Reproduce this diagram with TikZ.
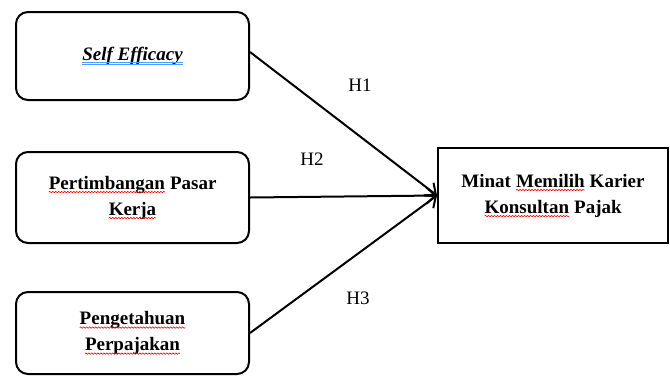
\documentclass[tikz,border=0pt]{standalone}
\usepackage{fontspec}
\setmainfont{Liberation Serif}
\usetikzlibrary{arrows.meta,decorations.pathmorphing}
\tikzset{inner/.style={inner sep=0pt,outer sep=0pt,draw=none,fill=none,rounded corners=0pt,minimum width=0pt,minimum height=0pt,anchor=base}}
\newcommand{\wv}[1]{\tikz[baseline=(w.base)]{\node[inner](w) at (0pt,0pt){#1};\draw[red,line width=0.6pt,rounded corners=0pt,decorate,decoration={snake,amplitude=0.7pt,segment length=3pt}]([yshift=-3pt]w.base west)--([yshift=-3pt]w.base east);}}
\newcommand{\bluul}[1]{\tikz[baseline=(w.base)]{\node[inner](w) at (0pt,0pt){#1};\draw[blue!55!cyan!70!white,line width=0.6pt,rounded corners=0pt]([yshift=-2pt]w.base west)--([yshift=-2pt]w.base east);\draw[blue!55!cyan!70!white,line width=0.6pt,rounded corners=0pt]([yshift=-3.8pt]w.base west)--([yshift=-3.8pt]w.base east);}}
\begin{document}
\begin{tikzpicture}[x=1pt,y=-1pt,
  txt/.style={font=\bfseries\fontsize{19}{26}\selectfont,align=center},
  rbox/.style={txt,draw,line width=2pt,rounded corners=12pt,minimum width=233pt,inner sep=0pt},
  sbox/.style={txt,draw,line width=2pt,minimum width=230pt,minimum height=95pt,inner sep=0pt},
  arr/.style={line width=2pt,-{Straight Barb[length=9pt,width=16pt,line width=2pt]}},
  lab/.style={font=\fontsize{19}{22}\selectfont,inner sep=0pt}]
\useasboundingbox (0,0) rectangle (670,376);
\node[rbox,minimum height=88pt] (b1) at (132.5,56) {\bluul{\textit{Self Efficacy}}};
\node[rbox,minimum height=91pt] (b2) at (132.5,197.5) {\wv{Pertimbangan} Pasar\\\wv{Kerja}};
\node[rbox,minimum height=82pt] (b3) at (132.5,333) {\wv{Pengetahuan}\\\wv{Perpajakan}};
\node[sbox] (r) at (553,195.5) {Minat \wv{Memilih} Karier\\\wv{Konsultan} Pajak};
\draw[arr] ([yshift=4pt]b1.east) -- (r.west);
\draw[arr] (b2.east) -- (r.west);
\draw[arr] (b3.east) -- (r.west);
\node[lab] (h1) at (360,85) {H1};
\node[lab] (h2) at (312,159) {H2};
\node[lab] (h3) at (358,298) {H3};
\end{tikzpicture}
\end{document}
